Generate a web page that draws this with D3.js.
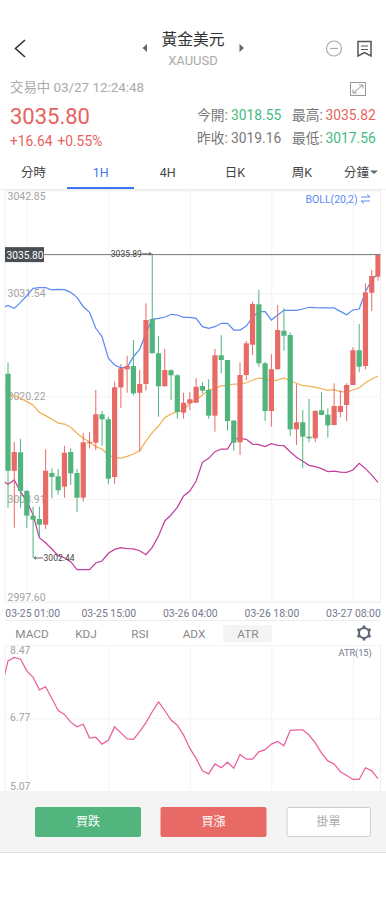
<!DOCTYPE html>
<html lang="zh-Hant">
<head>
<meta charset="UTF-8">
<title>XAUUSD</title>
<script src="https://d3js.org/d3.v7.min.js"></script>
<style>
    html, body { margin: 0; padding: 0; background: #fff; }
    svg { display: block; }
    text { font-family: Roboto, "Noto Sans CJK TC", sans-serif; }
    .grid line { stroke: #f3f3f3; }
    .grid path { display: none; }
    .tlabel text { font-size: 10.4px; fill: #74788f; }
</style>
</head>
<body>
<svg id="chart" width="386" height="900"></svg>
<script>
// candles, left to right
const opens = [3022.70,3012.03,3014.06,3009.81,3007.09,3006.73,3006.10,3011.78,3011.42,3010.28,3014.09,3011.78,3009.07,3015.05,3015.12,3018.24,3017.69,3011.35,3021.19,3023.19,3023.55,3020.61,3021.57,3028.72,3024.95,3021.32,3023.08,3022.53,3018.42,3019.45,3019.51,3021.35,3020.91,3018.09,3024.73,3024.21,3017.54,3015.16,3022.56,3025.89,3030.34,3023.85,3018.60,3023.19,3027.43,3026.96,3016.59,3017.36,3015.78,3015.60,3018.68,3018.20,3017.06,3018.49,3019.26,3021.46,3025.28,3023.55,3031.61,3033.37];
const highs = [3023.91,3015.22,3015.52,3009.92,3008.08,3008.08,3014.39,3012.30,3012.22,3014.78,3014.50,3012.22,3016.15,3016.26,3020.91,3018.60,3017.97,3021.82,3023.77,3024.68,3026.41,3023.11,3030.44,3035.89,3026.85,3025.42,3023.19,3022.64,3020.61,3020.69,3022.20,3021.79,3022.09,3025.42,3026.93,3024.21,3017.61,3023.96,3026.30,3030.62,3031.91,3023.99,3024.84,3030.26,3029.89,3027.26,3021.57,3018.71,3019.95,3018.71,3020.66,3018.90,3021.65,3020.91,3021.65,3025.61,3028.17,3032.64,3034.11,3035.82];
const lows = [3007.97,3005.77,3007.97,3005.77,3002.44,3004.78,3005.63,3009.01,3009.40,3009.07,3010.47,3007.47,3008.63,3014.50,3014.31,3014.78,3010.55,3010.61,3018.93,3020.61,3020.33,3014.13,3020.84,3024.95,3017.97,3021.32,3019.81,3017.76,3017.76,3018.71,3019.51,3020.55,3017.76,3016.33,3022.75,3016.44,3014.24,3013.76,3022.01,3024.76,3023.47,3017.50,3016.88,3023.19,3025.23,3015.89,3014.86,3012.30,3015.16,3015.19,3018.16,3015.67,3017.06,3017.91,3017.50,3021.46,3022.86,3023.19,3029.60,3032.93];
const closes = [3012.03,3014.09,3009.81,3007.09,3006.65,3006.10,3012.03,3011.35,3009.89,3014.01,3011.75,3009.07,3015.16,3015.19,3018.24,3017.69,3011.16,3021.21,3023.30,3023.55,3020.55,3021.57,3028.61,3024.95,3021.32,3023.11,3022.53,3018.49,3019.51,3019.89,3021.27,3020.84,3018.09,3024.73,3024.21,3017.50,3015.12,3022.56,3026.05,3030.37,3023.85,3018.60,3023.19,3027.51,3026.88,3016.59,3017.36,3015.78,3015.60,3018.60,3018.16,3017.03,3019.15,3019.15,3021.46,3025.28,3023.47,3031.65,3033.45,3035.80];

// Bollinger and ATR start one bar before the first visible candle
const bollUpper = [3029.93,3030.22,3029.89,3030.55,3031.28,3032.09,3032.16,3032.16,3031.91,3031.98,3031.94,3031.65,3031.10,3030.07,3029.45,3027.70,3026.77,3024.40,3023.66,3023.36,3023.41,3024.57,3025.39,3027.15,3028.69,3028.80,3028.91,3029.24,3029.16,3028.91,3028.91,3028.80,3027.87,3027.70,3027.87,3028.25,3028.25,3027.51,3027.51,3027.95,3028.91,3029.52,3029.52,3028.61,3029.16,3029.68,3029.68,3029.68,3029.82,3030.01,3029.96,3029.93,3029.93,3029.93,3029.56,3029.19,3029.71,3029.82,3031.72,3033.01,3033.74];
const bollMid = [3021.02,3020.64,3020.25,3020.00,3019.63,3019.26,3018.46,3018.09,3017.69,3017.28,3017.17,3016.81,3016.15,3015.60,3015.23,3014.68,3014.42,3013.76,3013.47,3013.43,3013.62,3013.87,3014.24,3015.30,3016.22,3016.95,3017.87,3018.27,3018.53,3018.71,3019.45,3019.81,3020.36,3020.94,3021.02,3021.38,3021.38,3021.57,3021.57,3021.71,3022.01,3022.23,3022.20,3021.90,3022.01,3022.23,3021.93,3021.65,3021.38,3021.35,3021.21,3021.05,3020.88,3020.94,3020.72,3020.69,3020.91,3021.16,3021.71,3022.12,3022.45];
const bollLower = [3011.02,3010.54,3011.02,3009.73,3008.71,3007.17,3004.67,3004.12,3003.43,3002.69,3002.47,3002.03,3001.15,3001.15,3001.15,3001.89,3002.11,3002.96,3003.39,3003.57,3003.46,3003.43,3003.24,3002.80,3003.61,3004.86,3006.51,3007.17,3008.01,3009.26,3009.81,3010.91,3012.96,3013.40,3014.13,3014.42,3014.42,3015.52,3015.60,3015.49,3014.97,3014.90,3014.68,3015.01,3014.83,3014.79,3014.13,3013.51,3013.07,3012.63,3012.48,3012.26,3011.93,3012.00,3011.89,3011.86,3012.11,3012.85,3012.26,3011.56,3010.76];
const atrValues = [7.50,8.10,8.18,8.14,7.87,7.72,7.43,7.50,7.23,6.95,6.86,6.68,6.57,6.63,6.31,6.33,6.17,6.26,6.57,6.43,6.29,6.28,6.46,6.67,6.92,7.15,6.95,6.73,6.61,6.38,6.07,5.84,5.55,5.48,5.71,5.62,5.75,5.61,5.93,5.82,5.82,5.99,6.04,6.17,6.23,6.13,6.49,6.50,6.50,6.38,6.20,5.96,5.78,5.71,5.53,5.44,5.35,5.35,5.62,5.55,5.37];

const priceTicks = [3042.85,3031.54,3020.22,3008.91,2997.60];
const atrTicks = [8.47,6.77,5.07];
const timeIndex = [3,16,29,42,55];
const timeLabels = ["03-25 01:00","03-25 15:00","03-26 04:00","03-26 18:00","03-27 08:00"];
const lastPrice = 3035.80;

const tabs = ["分時","1H","4H","日K","周K"];
const indicators = ["MACD","KDJ","RSI","ADX","ATR"];

const RED = "#e86a66", GREEN = "#50b47c";
const TXT_RED = "#e8625e", TXT_GREEN = "#3fbb80";

const plot = { left: 5, right: 380.5, top: 190.5, bottom: 602 };
const sub = { top: 645, bottom: 791.5 };

const svg = d3.select("#chart");

const x = d3.scaleLinear().domain([0, 59]).range([8, 378]);
const y = d3.scaleLinear().domain([2997.60, 3042.85]).range([plot.bottom, plot.top]);
const yAtr = d3.scaleLinear().domain([5.07, 8.47]).range([sub.bottom, sub.top]);

function label(parent, str, px, py, size, fill, anchor) {
    return parent.append("text")
        .attr("x", px).attr("y", py)
        .attr("font-size", size)
        .attr("fill", fill)
        .attr("text-anchor", anchor || "start")
        .attr("dominant-baseline", "central")
        .text(str);
}

// ---- header
const head = svg.append("g");
head.append("path").attr("d", "M25 40 L15.5 48.5 L25 57").attr("fill", "none").attr("stroke", "#333").attr("stroke-width", 1.6);
head.append("path").attr("d", "M147 44 L142.5 48 L147 52 Z").attr("fill", "#666");
head.append("path").attr("d", "M239.5 44 L244 48 L239.5 52 Z").attr("fill", "#666");
label(head, "黃金美元", 193, 39.5, 15.8, "#333", "middle");
label(head, "XAUUSD", 193, 60, 13, "#aaa", "middle");
head.append("circle").attr("cx", 334).attr("cy", 48.5).attr("r", 7.5).attr("fill", "none").attr("stroke", "#aaa").attr("stroke-width", 1.2);
head.append("line").attr("x1", 330).attr("x2", 338).attr("y1", 48.5).attr("y2", 48.5).attr("stroke", "#aaa").attr("stroke-width", 1.2);
head.append("path").attr("d", "M358 41.5 H371 V56 L364.5 52.5 L358 56 Z").attr("fill", "none").attr("stroke", "#555").attr("stroke-width", 1.5);
head.append("path").attr("d", "M361 46 H368 M361 49.5 H368").attr("stroke", "#555").attr("stroke-width", 1);

label(head, "交易中 03/27 12:24:48", 10, 87.5, 13.4, "#aaa");
head.append("rect").attr("x", 350.5).attr("y", 82.5).attr("width", 15).attr("height", 13).attr("fill", "none").attr("stroke", "#999").attr("stroke-width", 1);
head.append("path").attr("d", "M353 93 L363 85 M353 89.5 V93 H357 M359 85 H363 V88.5").attr("fill", "none").attr("stroke", "#999").attr("stroke-width", 1);

label(head, "3035.80", 10, 116.5, 22, TXT_RED);
label(head, "+16.64 +0.55%", 10, 140.5, 13.8, TXT_RED).attr("word-spacing", 1.5);

label(head, "今開:", 197, 114.5, 13.8, "#777");
label(head, "3018.55", 231, 114.5, 13.8, TXT_GREEN);
label(head, "最高:", 292, 114.5, 13.8, "#777");
label(head, "3035.82", 325.5, 114.5, 13.8, TXT_RED);
label(head, "昨收:", 197, 137.5, 13.8, "#777");
label(head, "3019.16", 231, 137.5, 13.8, "#777");
label(head, "最低:", 292, 137.5, 13.8, "#777");
label(head, "3017.56", 325.5, 137.5, 13.8, TXT_GREEN);

// ---- period tabs
const tabX = d3.scalePoint().domain(tabs).range([33.5, 302]);
tabs.forEach(t => label(head, t, tabX(t), 172, 12.5, t === "1H" ? "#3f74f2" : "#444", "middle"));
label(head, "分鐘", 356.5, 172, 12.5, "#444", "middle");
head.append("path").attr("d", "M370 170.5 H378 L374 174 Z").attr("fill", "#666");
head.append("rect").attr("x", 0).attr("y", 189).attr("width", 386).attr("height", 1).attr("fill", "#eee");
head.append("rect").attr("x", 67).attr("y", 187).attr("width", 67).attr("height", 2).attr("fill", "#3f74f2");

// ---- main chart grid
svg.append("rect").attr("x", plot.left).attr("y", plot.top).attr("width", plot.right - plot.left).attr("height", plot.bottom - plot.top)
    .attr("fill", "none").attr("stroke", "#eee");

svg.append("g").attr("class", "grid")
    .attr("transform", `translate(${plot.left},0)`)
    .call(d3.axisRight(y).tickValues(priceTicks).tickSize(plot.right - plot.left).tickFormat(""));
svg.append("g").attr("class", "grid")
    .attr("transform", `translate(0,${plot.bottom})`)
    .call(d3.axisTop(x).tickValues(timeIndex).tickSize(plot.bottom - plot.top).tickFormat(""));

priceTicks.forEach((p, i) => {
    const off = i === 0 ? 6 : i === priceTicks.length - 1 ? -5 : 0;
    label(svg, p.toFixed(2), 7.5, y(p) + off, 10.5, "#a3a3a3");
});

// ---- boll lines, clipped at the plot edge
const clip = svg.append("defs").append("clipPath").attr("id", "plotClip");
clip.append("rect").attr("x", plot.left).attr("y", plot.top).attr("width", plot.right - plot.left).attr("height", plot.bottom - plot.top);

const bollLine = d3.line().x((d, i) => x(i - 1)).y(d => y(d));
const lines = svg.append("g").attr("clip-path", "url(#plotClip)").attr("fill", "none").attr("stroke-width", 1.25);
lines.append("path").attr("d", bollLine(bollUpper)).attr("stroke", "#5b8af5");
lines.append("path").attr("d", bollLine(bollMid)).attr("stroke", "#f2b050");
lines.append("path").attr("d", bollLine(bollLower)).attr("stroke", "#c23f9f");

// ---- candles
const candles = svg.append("g").attr("clip-path", "url(#plotClip)")
    .selectAll("g").data(d3.range(opens.length)).join("g")
    .attr("fill", i => closes[i] >= opens[i] ? RED : GREEN)
    .attr("stroke", i => closes[i] >= opens[i] ? RED : GREEN);

candles.append("line")
    .attr("x1", i => x(i)).attr("x2", i => x(i))
    .attr("y1", i => y(highs[i])).attr("y2", i => y(lows[i]));
candles.append("rect")
    .attr("x", i => x(i) - 2.6)
    .attr("width", 5.2)
    .attr("y", i => y(Math.max(opens[i], closes[i])))
    .attr("height", i => Math.max(1, Math.abs(y(opens[i]) - y(closes[i]))))
    .attr("stroke", "none");

// ---- last price marker
svg.append("line").attr("x1", plot.left).attr("x2", plot.right)
    .attr("y1", y(lastPrice)).attr("y2", y(lastPrice))
    .attr("stroke", "#777").attr("stroke-width", 1);
svg.append("rect").attr("x", plot.left).attr("y", y(lastPrice) - 7.5).attr("width", 39).attr("height", 15).attr("fill", "#4b4e53");
label(svg, lastPrice.toFixed(2), 6.5, y(lastPrice) + 0.5, 10.2, "#fff");

// ---- max / min pins
const iMax = d3.range(highs.length).filter(i => i < 40).sort((a, b) => highs[b] - highs[a])[0];
const iMin = d3.range(lows.length).sort((a, b) => lows[a] - lows[b])[0];
label(svg, highs[iMax].toFixed(2), x(iMax) - 10.5, y(highs[iMax]), 8.5, "#444", "end");
svg.append("path").attr("d", `M${x(iMax) - 10} ${y(highs[iMax])} H${x(iMax) - 1} m-2 -1.5 l2 1.5 l-2 1.5`)
    .attr("fill", "none").attr("stroke", "#444").attr("stroke-width", 0.8);
label(svg, lows[iMin].toFixed(2), x(iMin) + 10.5, y(lows[iMin]), 8.5, "#444");
svg.append("path").attr("d", `M${x(iMin) + 10} ${y(lows[iMin])} H${x(iMin) + 1} m2 -1.5 l-2 1.5 l2 1.5`)
    .attr("fill", "none").attr("stroke", "#444").attr("stroke-width", 0.8);

// ---- BOLL legend
label(svg, "BOLL(20,2)", 305.5, 199, 10.5, "#5b8af5");
svg.append("path").attr("d", "M361 197 H370 L367 194.5 M370 201 H361 L364 203.5").attr("fill", "none").attr("stroke", "#5b8af5").attr("stroke-width", 1);

// ---- time axis
const tAxis = svg.append("g").attr("class", "tlabel")
    .attr("transform", `translate(0,${plot.bottom + 5})`)
    .call(d3.axisBottom(x).tickValues(timeIndex).tickSize(0).tickFormat((d, i) => timeLabels[i]));
tAxis.select(".domain").remove();
tAxis.selectAll("text").filter((d, i) => i === 0).attr("text-anchor", "start").attr("x", -22);

// ---- indicator tabs
svg.append("line").attr("x1", plot.left).attr("x2", plot.right).attr("y1", 620.5).attr("y2", 620.5).attr("stroke", "#eee");
svg.append("line").attr("x1", plot.left).attr("x2", plot.right).attr("y1", 645.5).attr("y2", 645.5).attr("stroke", "#eee");
svg.append("rect").attr("x", 223).attr("y", 625).attr("width", 49).attr("height", 17).attr("fill", "#f4f4f4");
const indX = d3.scalePoint().domain(indicators).range([32, 248]);
indicators.forEach(t => label(svg, t, indX(t), 634, 11.8, "#8a8a8a", "middle"));

// gear
const gear = svg.append("g").attr("transform", "translate(364,633)");
gear.append("circle").attr("r", 5).attr("fill", "none").attr("stroke", "#5d6478").attr("stroke-width", 2);
gear.selectAll("rect").data(d3.range(6)).join("rect")
    .attr("x", -1.3).attr("y", -7.5).attr("width", 2.6).attr("height", 2.5).attr("fill", "#5d6478")
    .attr("transform", d => `rotate(${d * 60})`);

// ---- ATR panel
svg.append("line").attr("x1", plot.left).attr("x2", plot.left).attr("y1", sub.top).attr("y2", sub.bottom).attr("stroke", "#eee");
svg.append("line").attr("x1", plot.right).attr("x2", plot.right).attr("y1", sub.top).attr("y2", sub.bottom).attr("stroke", "#eee");
svg.append("g").attr("class", "grid")
    .attr("transform", `translate(${plot.left},0)`)
    .call(d3.axisRight(yAtr).tickValues(atrTicks).tickSize(plot.right - plot.left).tickFormat(""));
svg.append("g").attr("class", "grid")
    .attr("transform", `translate(0,${sub.bottom})`)
    .call(d3.axisTop(x).tickValues(timeIndex).tickSize(sub.bottom - sub.top).tickFormat(""));

atrTicks.forEach((v, i) => {
    const off = i === 0 ? 5 : i === atrTicks.length - 1 ? -5 : -0.5;
    label(svg, v.toFixed(2), 10, yAtr(v) + off, 10.5, "#a3a3a3");
});
label(svg, "ATR(15)", 338.5, 652, 9.2, "#74788f");

const atrLine = d3.line().x((d, i) => x(i - 1)).y(d => yAtr(d));
svg.select("defs").append("clipPath").attr("id", "plotClip2")
    .append("rect").attr("x", plot.left).attr("y", sub.top).attr("width", plot.right - plot.left).attr("height", sub.bottom - sub.top);
svg.append("path").attr("d", atrLine(atrValues)).attr("clip-path", "url(#plotClip2)")
    .attr("fill", "none").attr("stroke", "#ea5f9f").attr("stroke-width", 1.25);

// ---- bottom buttons
svg.append("rect").attr("x", 0).attr("y", 791).attr("width", 386).attr("height", 61).attr("fill", "#f4f4f4");
svg.append("rect").attr("x", 0).attr("y", 852).attr("width", 386).attr("height", 1).attr("fill", "#ddd");
svg.append("rect").attr("x", 35).attr("y", 807).attr("width", 106).attr("height", 30).attr("rx", 2).attr("fill", "#52b57e");
label(svg, "買跌", 88, 822, 12, "#fff", "middle");
svg.append("rect").attr("x", 160.5).attr("y", 807).attr("width", 106).attr("height", 30).attr("rx", 2).attr("fill", RED);
label(svg, "買漲", 213.5, 822, 12, "#fff", "middle");
svg.append("rect").attr("x", 287).attr("y", 807.5).attr("width", 83.5).attr("height", 29).attr("rx", 2).attr("fill", "#fff").attr("stroke", "#ccc");
label(svg, "掛單", 328.5, 822, 12, "#aaa", "middle");
</script>
</body>
</html>
